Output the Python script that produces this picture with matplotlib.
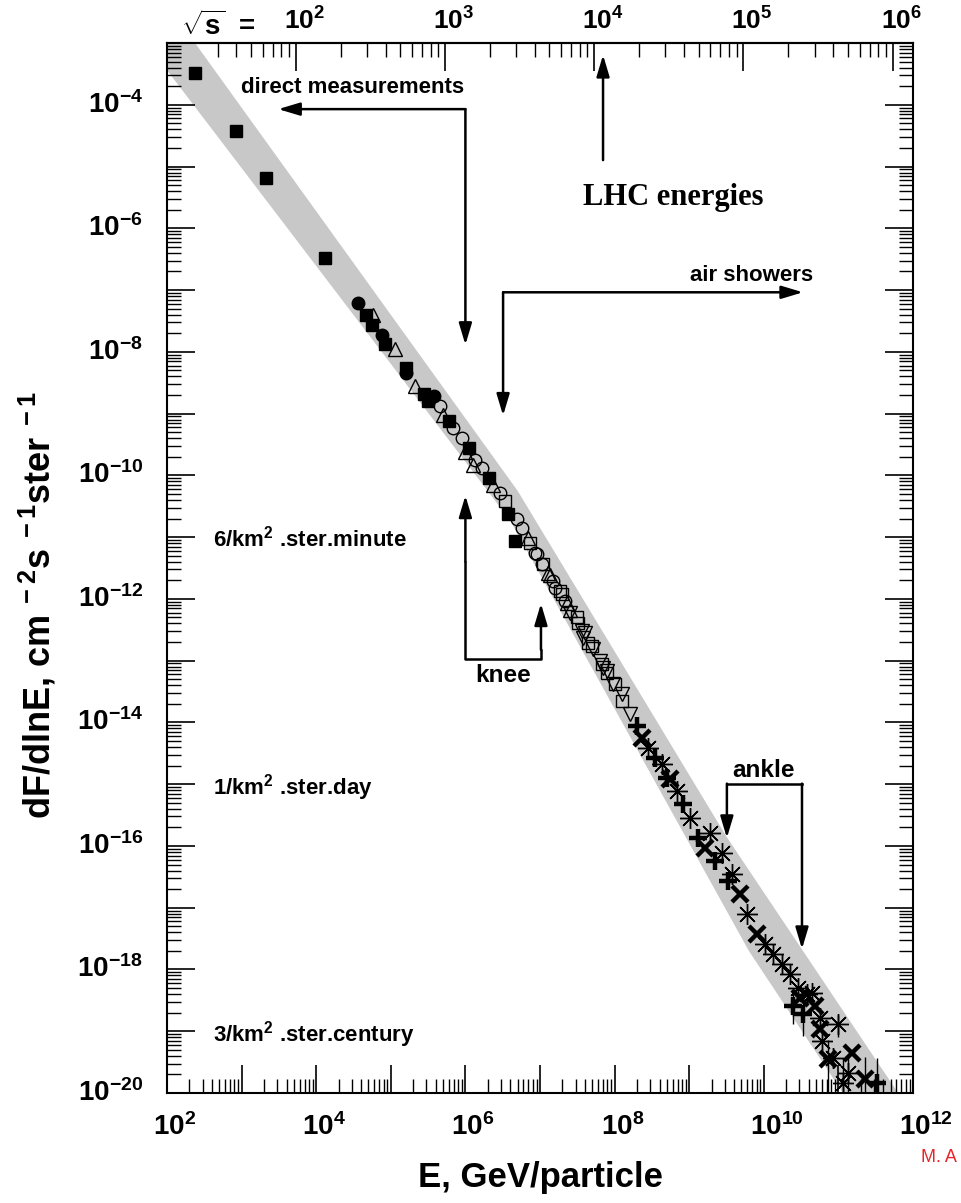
import numpy as np
import matplotlib.pyplot as plt
import matplotlib.transforms as mtransforms
from matplotlib.ticker import FixedLocator, LogLocator, NullFormatter

plt.rcParams['font.family'] = ['Liberation Sans', 'DejaVu Sans']
plt.rcParams['mathtext.fontset'] = 'custom'
plt.rcParams['mathtext.rm'] = 'Liberation Sans:bold'
plt.rcParams['mathtext.it'] = 'Liberation Sans:bold'
plt.rcParams['mathtext.bf'] = 'Liberation Sans:bold'

# --- data: E in GeV, flux dF/dlnE in cm^-2 s^-1 sr^-1 ---
sq_E = [2.37e2, 8.4e2, 2.12e3, 1.31e4, 4.66e4, 5.6e4, 8.4e4, 1.6e5, 2.8e5, 3.15e5,
        6.0e5, 1.12e6, 2.07e6, 3.7e6, 4.6e6]
sq_F = [3.27e-4, 3.75e-5, 6.5e-6, 3.27e-7, 3.9e-8, 2.7e-8, 1.32e-8, 5.4e-9, 2.05e-9, 1.58e-9,
        7.5e-10, 2.73e-10, 9.2e-11, 2.4e-11, 8.8e-12]

circ_E = [3.63e4, 7.6e4, 1.6e5, 3.8e5]
circ_F = [6.1e-8, 1.85e-8, 4.5e-9, 1.9e-9]

tri_E = [5.8e4, 1.14e5, 2.1e5, 5.0e5, 9.9e5, 1.27e6, 2.35e6, 6.9e6, 1.28e7, 1.36e7, 2.3e7, 2.52e7]
tri_F = [3.9e-8, 1.1e-8, 2.76e-9, 9.35e-10, 2.35e-10, 1.45e-10, 6.9e-11, 9.5e-12, 2.67e-12,
         2.4e-12, 8.7e-13, 6.5e-13]

ocirc_E = [4.57e5, 6.8e5, 9.0e5, 1.35e6, 1.67e6, 2.9e6, 4.9e6, 5.7e6, 8.6e6, 9.1e6, 1.06e7,
           1.49e7, 1.59e7, 2.16e7]
ocirc_F = [1.31e-9, 5.75e-10, 4.1e-10, 1.74e-10, 1.3e-10, 5.1e-11, 2.0e-11, 1.43e-11, 5.6e-12,
           5.4e-12, 3.7e-12, 1.98e-12, 1.52e-12, 9.4e-13]

osq_E = [3.4e6, 7.35e6, 1.1e7, 1.85e7, 1.97e7, 3.1e7, 3.23e7, 4.4e7, 4.98e7, 6.8e7, 7.9e7,
         1.01e8, 1.26e8]
osq_F = [3.9e-11, 7.9e-12, 3.7e-12, 1.36e-12, 1.22e-12, 5.0e-13, 4.0e-13, 1.96e-13, 1.75e-13,
         8.9e-14, 6.4e-14, 4.2e-14, 2.25e-14]

itri_E = [2.5e7, 3.66e7, 3.77e7, 4.0e7, 5.1e7, 6.4e7, 7.0e7, 7.9e7, 9.5e7, 1.26e8, 1.6e8]
itri_F = [5.8e-13, 3.06e-13, 2.36e-13, 2.85e-13, 1.57e-13, 1.0e-13, 7.7e-14, 6.9e-14, 4.2e-14,
          2.9e-14, 1.38e-14]

plus_E = [2.0e8, 3.5e8, 5.0e8, 8.3e8, 1.31e9, 2.2e9, 3.3e9, 2.46e10, 3.35e10, 3.3e11]
plus_F = [8.9e-15, 2.7e-15, 1.27e-15, 4.8e-16, 1.35e-16, 5.7e-17, 2.7e-17, 2.6e-19, 1.9e-19,
          1.45e-20]

cross_E = [2.33e8, 5.5e8, 1.63e9, 4.8e9, 8.1e9, 3.05e10, 4.85e10, 5.66e10, 7.26e10, 1.52e11,
           2.27e11]
cross_F = [5.6e-15, 1.22e-15, 9.3e-17, 1.68e-17, 3.8e-18, 3.45e-19, 2.57e-19, 1.09e-19, 3.55e-20,
           4.4e-20, 1.68e-20]

star_E = [2.8e8, 4.3e8, 6.9e8, 1.03e9, 1.9e9, 2.75e9, 3.75e9, 5.96e9, 1.04e10, 1.33e10, 1.75e10,
          2.24e10, 2.87e10, 3.79e10, 4.43e10, 5.66e10, 9.9e10, 6.0e10, 1.35e11, 1.15e11, 8.5e10]
star_F = [3.9e-15, 2.14e-15, 7.8e-16, 2.85e-16, 1.63e-16, 7.7e-17, 3.5e-17, 7.9e-18, 2.6e-18,
          1.78e-18, 1.23e-18, 8.5e-19, 5.0e-19, 4.0e-19, 4.16e-19, 1.64e-19, 1.3e-19, 6.9e-20,
          2.1e-20, 1.45e-20, 3.7e-20]

# error bars (in decades below / above the point)
err_E = [2.46e10, 3.35e10, 9.9e10, 7.26e10, 1.15e11, 1.35e11, 2.27e11, 3.3e11]
err_F = [2.6e-19, 1.9e-19, 1.3e-19, 3.55e-20, 1.45e-20, 2.1e-20, 1.68e-20, 1.45e-20]
err_lo = [0.30, 0.35, 0.20, 0.60, 0.60, 0.60, 0.60, 0.60]
err_hi = [0.25, 0.20, 0.15, 0.30, 0.40, 0.30, 0.35, 0.40]

# grey band (log10 E, log10 F) for upper and lower edge
band_up_logE = [2.0, 6.70, 9.50, 12.0]
band_up_logF = [-2.37, -10.25, -15.85, -20.36]
band_lo_logE = [2.0, 6.60, 9.80, 11.5]
band_lo_logF = [-3.44, -10.73, -17.70, -20.80]

x_ticks = [1e2, 1e4, 1e6, 1e8, 1e10, 1e12]
y_ticks = [1e-4, 1e-6, 1e-8, 1e-10, 1e-12, 1e-14, 1e-16, 1e-18, 1e-20]
sqrt_s_ticks = [1e2, 1e3, 1e4, 1e5, 1e6]
m_p = 0.938

fig = plt.figure(figsize=(9.62, 12.03), dpi=100)
ax = fig.add_axes([167/962, 110/1203, 746/962, 1050/1203])
ax.set_xscale('log')
ax.set_yscale('log')
ax.set_xlim(1e2, 1e12)
ax.set_ylim(1e-20, 1e-3)

# band
bx = list(10**np.array(band_up_logE)) + list(10**np.array(band_lo_logE))[::-1]
by = list(10**np.array(band_up_logF)) + list(10**np.array(band_lo_logF))[::-1]
ax.fill(bx, by, color='#c8c8c8', lw=0, zorder=1)

# data points
k = 'black'
ax.errorbar(err_E, err_F,
            yerr=[np.array(err_F) * (1 - 10**-np.array(err_lo)),
                  np.array(err_F) * (10**np.array(err_hi) - 1)],
            fmt='none', ecolor=k, elinewidth=1.0, zorder=2)
ax.plot(osq_E, osq_F, 's', ms=9, mfc='none', mec=k, mew=1.0, zorder=3)
ax.plot(itri_E, itri_F, 'v', ms=10, mfc='none', mec=k, mew=1.0, zorder=3)
ax.plot(ocirc_E, ocirc_F, 'o', ms=9, mfc='none', mec=k, mew=1.0, zorder=3)
ax.plot(tri_E, tri_F, '^', ms=10, mfc='none', mec=k, mew=1.0, zorder=3)
ax.plot(circ_E, circ_F, 'o', ms=9, color=k, zorder=4)
ax.plot(sq_E, sq_F, 's', ms=8.5, color=k, zorder=4)
ax.plot(star_E, star_F, marker=(8, 2, 0), ls='none', ms=15, mec=k, mew=1.0, zorder=4)
ax.plot(plus_E, plus_F, '+', ms=13, mec=k, mew=3.2, zorder=5)
ax.plot(cross_E, cross_F, 'x', ms=11, mec=k, mew=3.2, zorder=5)

# axes styling
for s in ax.spines.values():
    s.set_linewidth(1.5)
ax.xaxis.set_major_locator(LogLocator(base=10, numticks=30))
ax.xaxis.set_minor_locator(LogLocator(base=10, subs=np.arange(2, 10), numticks=300))
ax.yaxis.set_major_locator(LogLocator(base=10, numticks=30))
ax.yaxis.set_minor_locator(LogLocator(base=10, subs=np.arange(2, 10), numticks=300))
ax.xaxis.set_major_formatter(NullFormatter())
ax.xaxis.set_minor_formatter(NullFormatter())
ax.yaxis.set_major_formatter(NullFormatter())
ax.yaxis.set_minor_formatter(NullFormatter())
ax.tick_params(which='major', direction='in', length=20, width=1.2,
               left=True, right=True, bottom=True, top=False)
ax.tick_params(which='minor', direction='in', length=10, width=1.0,
               left=True, right=True, bottom=True, top=False)

# tick labels: base "10" centred on the tick
xlab_tr = mtransforms.offset_copy(mtransforms.blended_transform_factory(ax.transData, ax.transAxes),
                                  fig=fig, x=-14, y=-20, units='dots')
for v in x_ticks:
    ax.text(v, 0, r'$10^{%d}$' % round(np.log10(v)), transform=xlab_tr,
            ha='left', va='top', fontsize=20)
ylab_tr = mtransforms.offset_copy(mtransforms.blended_transform_factory(ax.transAxes, ax.transData),
                                  fig=fig, x=-24, y=0, units='dots')
for v in y_ticks:
    ax.text(0, v, r'$10^{%d}$' % round(np.log10(v)), transform=ylab_tr,
            ha='right', va='center', fontsize=20)

# top axis in sqrt(s)
sec = ax.secondary_xaxis('top', functions=(lambda E: np.sqrt(2 * m_p * np.clip(E, 1e-30, None)),
                                           lambda s: s**2 / (2 * m_p)))
sec.xaxis.set_major_locator(FixedLocator(sqrt_s_ticks))
sec.xaxis.set_minor_locator(LogLocator(base=10, subs=np.arange(2, 10), numticks=300))
sec.xaxis.set_major_formatter(NullFormatter())
sec.xaxis.set_minor_formatter(NullFormatter())
sec.tick_params(which='major', direction='in', length=20, width=1.2)
sec.tick_params(which='minor', direction='in', length=10, width=1.0)
sec.spines['top'].set_linewidth(1.5)
top_tr = mtransforms.offset_copy(mtransforms.blended_transform_factory(ax.transData, ax.transAxes),
                                 fig=fig, x=-12, y=8, units='dots')
for v in sqrt_s_ticks:
    ax.text(v**2 / (2 * m_p), 1, r'$10^{%d}$' % round(np.log10(v)), transform=top_tr,
            ha='left', va='bottom', fontsize=19)
fig.text(218/962, 1 - 26/1203, r'$\sqrt{s}$  =', ha='center', va='center', fontsize=20,
         fontweight='bold')

# axis titles
fig.text(540/962, 1 - 1178/1203, 'E, GeV/particle', ha='center', va='center',
         fontsize=25, fontweight='bold')
fig.text(38/962, 1 - 605/1203, r'dF/dlnE, cm$^{\;-2}$s$^{\;-1}$ster$^{\;-1}$', ha='center',
         va='center', rotation=90, fontsize=26, fontweight='bold')
fig.text(921/962, 1 - 1158/1203, 'M. A', color='#e8242b', fontsize=13, va='center', ha='left')

# annotations
arr = dict(arrowstyle='-|>,head_length=1.0,head_width=0.3', color=k, lw=1.8,
           mutation_scale=13, shrinkA=0, shrinkB=0)


def arrow(x0, y0, x1, y1):
    ax.annotate('', xy=(x1, y1), xytext=(x0, y0), arrowprops=arr, zorder=6)


def line(xs, ys):
    ax.plot(xs, ys, color=k, lw=1.8, zorder=6)


txt = dict(fontsize=16, fontweight='bold', ha='center', va='center')

# direct measurements
ax.text(3.1e4, 1.87e-4, 'direct measurements', **txt)
arrow(1.0e6, 8.5e-5, 3.1e3, 8.5e-5)
arrow(1.0e6, 8.5e-5, 1.0e6, 1.3e-8)

# air showers
ax.text(6.95e9, 1.74e-7, 'air showers', **txt)
arrow(3.2e6, 9.2e-8, 3.35e10, 9.2e-8)
arrow(3.2e6, 9.2e-8, 3.2e6, 9.3e-10)

# LHC energies
ax.text(6.07e8, 3.2e-6, 'LHC energies', fontsize=22, fontweight='bold', family='Liberation Serif',
        ha='center', va='center')
arrow(7.0e7, 1.27e-5, 7.0e7, 6.4e-4)

# knee
ax.text(3.2e6, 5.7e-14, 'knee', fontsize=17.5, fontweight='bold', ha='center', va='center')
line([1.0e6, 1.0e6, 1.03e7, 1.03e7], [4.0e-12, 1.07e-13, 1.07e-13, 1.5e-13])
arrow(1.0e6, 4.0e-12, 1.0e6, 4.7e-11)
arrow(1.03e7, 1.5e-13, 1.03e7, 8.4e-13)

# ankle
ax.text(1.0e10, 1.66e-15, 'ankle', fontsize=17.5, fontweight='bold', ha='center', va='center')
line([3.2e9, 3.25e10], [1.02e-15, 1.02e-15])
arrow(3.2e9, 1.02e-15, 3.2e9, 1.35e-16)
arrow(3.25e10, 1.02e-15, 3.25e10, 2.15e-18)

# event rates
rate = dict(fontsize=16, fontweight='bold', ha='left', va='center')
ax.text(4.1e2, 9.5e-12, r'6/km$^{2}$ .ster.minute', **rate)
ax.text(4.1e2, 8.7e-16, r'1/km$^{2}$ .ster.day', **rate)
ax.text(4.1e2, 8.9e-20, r'3/km$^{2}$ .ster.century', **rate)

fig.savefig('out.png', dpi=100)
